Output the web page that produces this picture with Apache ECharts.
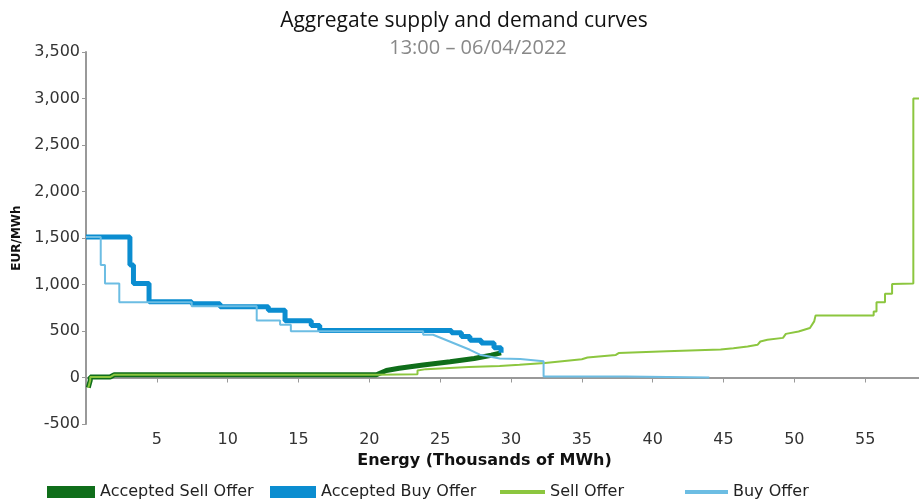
<!DOCTYPE html>
<html><head><meta charset="utf-8">
<script src="https://cdn.jsdelivr.net/npm/echarts@6/dist/echarts.min.js"></script>
<style>html,body{margin:0;padding:0;background:#fff}#c{width:919px;height:502px}</style>
</head><body><div id="c"></div>
<script>
const titleText = 'Aggregate supply and demand curves';
const subtitleText = '13:00 \u2013 06/04/2022';
const xTicks = [5,10,15,20,25,30,35,40,45,50,55];
const yTicks = [-500,0,500,1000,1500,2000,2500,3000,3500];

const acceptedSell = [[0.16,-110],[0.3,-30],[0.3,5],[1.7,5],[1.7,25],[2,30],[20.5,30],[21.2,75],[22.1,100],[23.8,135],[25.7,170],[27.4,205],[28.6,240],[29.3,265]];
const acceptedBuy = [[0,1510],[3.1,1510],[3.1,1210],[3.35,1210],[3.35,1010],[4.45,1010],[4.45,815],[7.46,815],[7.46,793],[9.46,793],[9.46,760],[12.87,760],[12.87,724],[14.05,724],[14.05,610],[15.9,610],[15.9,558],[16.5,558],[16.5,505],[25.8,505],[25.8,480],[26.5,480],[26.5,440],[27.1,440],[27.1,400],[27.9,400],[27.9,370],[28.8,370],[28.8,320],[29.3,320],[29.3,265]];
const sellOffer = [[0.16,-110],[0.3,-30],[0.3,5],[1.7,5],[1.7,25],[2,30],[20.5,30],[23.4,35],[23.4,76],[24,90],[27,112],[29.2,124],[30.6,137],[32.4,155],[35,197],[35.4,215],[37.4,243],[37.6,263],[41,283],[44.8,300],[45.7,315],[46.7,333],[47.4,351],[47.6,387],[48.1,405],[49.2,426],[49.4,469],[50.3,495],[51.1,533],[51.4,603],[51.5,668],[55.6,668],[55.6,710],[55.8,710],[55.8,810],[56.4,810],[56.4,900],[56.9,900],[56.9,1005],[58.4,1010],[58.4,3000],[58.8,3000]];
const buyOffer = [[0,1510],[1.04,1510],[1.04,1210],[1.34,1210],[1.34,1010],[2.35,1010],[2.35,810],[7.46,810],[7.46,767],[12.05,767],[12.05,612],[13.7,612],[13.7,567],[14.46,567],[14.46,497],[23.8,497],[23.8,460],[24.5,460],[27.1,298],[27.8,245],[29.2,205],[30.65,198],[32.3,175],[32.3,10],[38.1,10],[38.1,0],[44,0]];

const FONT = 'DejaVu Sans';
const C = {aSell:'#0f6e1a', aBuy:'#0b8dd0', sell:'#8cc63f', buy:'#6cbde3'};

function legend(name, left, w, h) {
  return {data:[{name:name, icon:'rect'}], left:left, top:479, itemWidth:w, itemHeight:h, itemGap:0,
    textStyle:{fontFamily:FONT, fontSize:16, color:'#222'}, selectedMode:false};
}

const chart = echarts.init(document.getElementById('c'), null, {renderer:'canvas'});
chart.setOption({
  animation:false,
  backgroundColor:'#fff',
  title:[
    {text:titleText, left:459, textAlign:'center', top:6, textStyle:{fontFamily:'Open Sans', fontSize:21, fontWeight:'normal', color:'#111'}},
    {text:subtitleText, left:473, textAlign:'center', top:33, textStyle:{fontFamily:'Open Sans', fontSize:20, fontWeight:'normal', color:'#888'}}
  ],
  legend:[
    legend('Accepted Sell Offer',42,48,12),
    legend('Accepted Buy Offer',265,46,12),
    legend('Sell Offer',495,45,4),
    legend('Buy Offer',680,43,4)
  ],
  grid:{left:86, right:0, top:52, bottom:78, containLabel:false},
  xAxis:{type:'value', min:0, max:58.8, interval:5,
    name:'Energy (Thousands of MWh)', nameLocation:'middle', nameGap:27,
    nameTextStyle:{fontFamily:FONT, fontSize:16, fontWeight:'bold', color:'#111', padding:[0,36,0,0]},
    axisLine:{show:true, lineStyle:{color:'#999', width:2}},
    axisTick:{show:true, length:5, lineStyle:{color:'#999'}},
    axisLabel:{fontFamily:FONT, fontSize:16, color:'#333', margin:8, showMinLabel:false, showMaxLabel:false,
      formatter:function(v){return xTicks.indexOf(v)>=0 ? String(v) : '';}},
    splitLine:{show:false}
  },
  yAxis:{type:'value', min:-500, max:3500, interval:500,
    name:'EUR/MWh', nameLocation:'middle', nameGap:63, nameRotate:90,
    nameTextStyle:{fontFamily:FONT, fontSize:12, fontWeight:'bold', color:'#111'},
    axisLine:{show:true, lineStyle:{color:'#999', width:2}},
    axisTick:{show:true, length:4, lineStyle:{color:'#999'}},
    axisLabel:{fontFamily:FONT, fontSize:16, color:'#333', margin:6,
      formatter:function(v){return yTicks.indexOf(v)>=0 ? v.toLocaleString('en-US') : '';}},
    splitLine:{show:false}
  },
  series:[
    {name:'Accepted Sell Offer', type:'line', data:acceptedSell, showSymbol:false, color:C.aSell, lineStyle:{width:5, color:C.aSell}, z:2},
    {name:'Accepted Buy Offer', type:'line', data:acceptedBuy, showSymbol:false, color:C.aBuy, lineStyle:{width:5, color:C.aBuy}, z:3},
    {name:'Sell Offer', type:'line', data:sellOffer, showSymbol:false, color:C.sell, lineStyle:{width:2, color:C.sell}, z:4},
    {name:'Buy Offer', type:'line', data:buyOffer, showSymbol:false, color:C.buy, lineStyle:{width:2, color:C.buy}, z:5}
  ]
});
</script></body></html>
